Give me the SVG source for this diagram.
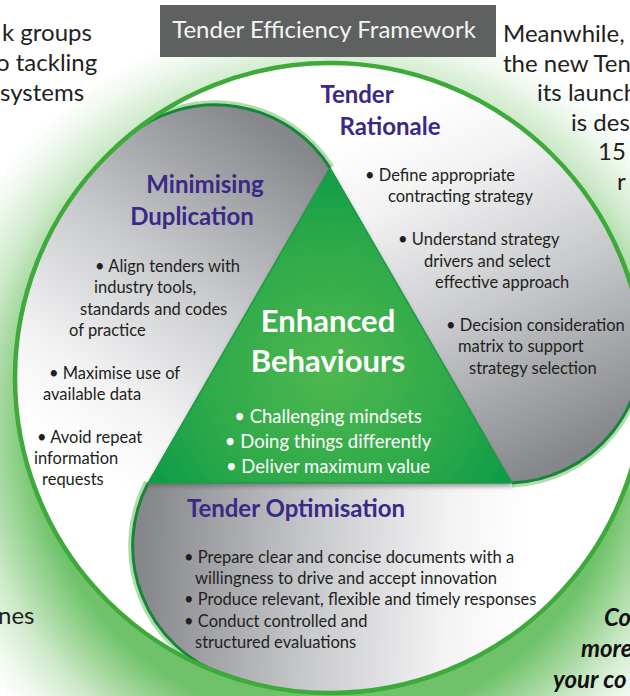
<svg xmlns="http://www.w3.org/2000/svg" xmlns:xlink="http://www.w3.org/1999/xlink" width="630" height="696" viewBox="0 0 630 696">
  <defs>
    <style>
      .page { font-family: Lato, "Open Sans", "Liberation Sans", sans-serif; fill: #231f20; font-size: 24px; }
      .bold-it { font-family: Lato, "Liberation Sans", sans-serif; font-weight: 700; font-style: italic; fill: #111; font-size: 24px; }
      .banner { font-family: Lato, "Liberation Sans", sans-serif; fill: #f4f4f4; font-size: 24px; }
      .head { font-family: Lato, "Liberation Sans", sans-serif; font-weight: 700; fill: #3a2986; font-size: 24px; }
      .body { font-family: Lato, "Liberation Sans", sans-serif; fill: #231f20; font-size: 16.5px; }
      .core-head { font-family: Lato, "Liberation Sans", sans-serif; font-weight: 700; fill: #ffffff; font-size: 31px; }
      .core-body { font-family: Lato, "Liberation Sans", sans-serif; fill: #ffffff; font-size: 18.5px; }
      .glow { fill: none; stroke: #9ad594; stroke-width: 9; stroke-opacity: 0.8; }
      .edge { fill: none; stroke: #17853a; stroke-width: 3; }
    </style>

    <!-- soft green halo around the wheel -->
    <radialGradient id="halo" gradientUnits="userSpaceOnUse" cx="330" cy="430" r="420">
      <stop offset="0.70" stop-color="#6fc26a"/>
      <stop offset="0.78" stop-color="#9fd699"/>
      <stop offset="0.86" stop-color="#cfeacb"/>
      <stop offset="0.94" stop-color="#eff8ee"/>
      <stop offset="1" stop-color="#ffffff"/>
    </radialGradient>

    <!-- grey sweep used by every lobe (rotates with the lobe) -->
    <linearGradient id="lobeGrad" gradientUnits="userSpaceOnUse" x1="305" y1="150" x2="95" y2="470">
      <stop offset="0" stop-color="#86878b"/>
      <stop offset="0.45" stop-color="#c9cacd"/>
      <stop offset="0.8" stop-color="#f3f3f4"/>
      <stop offset="1" stop-color="#ffffff"/>
    </linearGradient>

    <radialGradient id="coreGrad" gradientUnits="userSpaceOnUse" cx="330" cy="370" r="230">
      <stop offset="0" stop-color="#4fb84f"/>
      <stop offset="0.6" stop-color="#2aa84a"/>
      <stop offset="1" stop-color="#039847"/>
    </radialGradient>

    <filter id="coreShadow" x="-10%" y="-10%" width="120%" height="125%">
      <feGaussianBlur in="SourceAlpha" stdDeviation="2"/>
      <feOffset dx="0" dy="3" result="s"/>
      <feFlood flood-color="#5a5a5a" flood-opacity="0.55"/>
      <feComposite in2="s" operator="in"/>
      <feMerge><feMergeNode/><feMergeNode in="SourceGraphic"/></feMerge>
    </filter>

    <!-- one lobe: triangle edge, leading arc, rim arc, trailing arc -->
    <path id="lobe" fill="url(#lobeGrad)"
          d="M148.1,483 L330,168 A136.2,136.2 0 0 0 127.5,136.7 A315,315 0 0 0 222.3,674 A136.2,136.2 0 0 1 148.1,483 Z"/>
    <path id="arcA" d="M330,168 A136.2,136.2 0 0 0 127.5,136.7"/>

    <clipPath id="clipNext">
      <use xlink:href="#lobe" transform="rotate(120 330 378)"/>
    </clipPath>
  </defs>

  <!-- page background with halo -->
  <rect x="0" y="0" width="630" height="696" fill="url(#halo)"/>

  <!-- surrounding page copy -->
  <g id="page-text">
    <text class="page" x="2" y="41">k groups</text>
    <text class="page" x="-4" y="71">o tackling</text>
    <text class="page" x="0" y="101">systems</text>
    <text class="page" x="503" y="42">Meanwhile,</text>
    <text class="page" x="503" y="72">the new Ten</text>
    <text class="page" x="537" y="101">its launch</text>
    <text class="page" x="571" y="131">is des</text>
    <text class="page" x="598" y="160">15</text>
    <text class="page" x="617" y="190">r</text>
    <text class="page" x="-2" y="624">nes</text>
    <text class="bold-it" x="604" y="626">Co</text>
    <text class="bold-it" x="581" y="657">more</text>
    <text class="bold-it" x="553" y="688">your co</text>
  </g>

  <!-- banner -->
  <g id="banner">
    <rect x="160" y="5" width="336" height="52" fill="#5f6160"/>
    <text class="banner" x="324" y="38" text-anchor="middle">Tender Efficiency Framework</text>
  </g>

  <!-- wheel base -->
  <circle cx="330" cy="378" r="315" fill="#ffffff"/>

  <g id="node-minimising">
    <use xlink:href="#lobe"/>
    <text class="head" x="205" y="193" text-anchor="middle">Minimising</text>
    <text class="head" x="192" y="225" text-anchor="middle">Duplication</text>
    <text class="body" x="95" y="272">• Align tenders with</text>
    <text class="body" x="94" y="293">industry tools,</text>
    <text class="body" x="80" y="315">standards and codes</text>
    <text class="body" x="69" y="336">of practice</text>
    <text class="body" x="49" y="379">• Maximise use of</text>
    <text class="body" x="43" y="400">available data</text>
    <text class="body" x="37" y="443">• Avoid repeat</text>
    <text class="body" x="34" y="464">information</text>
    <text class="body" x="42" y="485">requests</text>
  </g>

  <g id="node-rationale">
    <use xlink:href="#lobe" transform="rotate(120 330 378)"/>
    <text class="head" x="357" y="103" text-anchor="middle">Tender</text>
    <text class="head" x="390" y="135" text-anchor="middle">Rationale</text>
    <text class="body" x="365" y="181">• Define appropriate</text>
    <text class="body" x="388" y="202">contracting strategy</text>
    <text class="body" x="398" y="245">• Understand strategy</text>
    <text class="body" x="424" y="267">drivers and select</text>
    <text class="body" x="435" y="288">effective approach</text>
    <text class="body" x="446" y="331">• Decision consideration</text>
    <text class="body" x="458" y="352">matrix to support</text>
    <text class="body" x="469" y="374">strategy selection</text>
  </g>

  <g id="node-optimisation">
    <use xlink:href="#lobe" transform="rotate(240 330 378)"/>
    <text class="head" x="296" y="517" text-anchor="middle">Tender Optimisation</text>
    <text class="body" x="184" y="563">• Prepare clear and concise documents with a</text>
    <text class="body" x="195" y="584">willingness to drive and accept innovation</text>
    <text class="body" x="184" y="605">• Produce relevant, flexible and timely responses</text>
    <text class="body" x="184" y="627">• Conduct controlled and</text>
    <text class="body" x="195" y="648">structured evaluations</text>
  </g>

  <!-- dark green lobe edges with a light halo on their outer side -->
  <g id="lobe-edges">
    <g>
      <use xlink:href="#arcA" class="glow" clip-path="url(#clipNext)"/>
      <use xlink:href="#arcA" class="edge"/>
    </g>
    <g transform="rotate(120 330 378)">
      <use xlink:href="#arcA" class="glow" clip-path="url(#clipNext)"/>
      <use xlink:href="#arcA" class="edge"/>
    </g>
    <g transform="rotate(240 330 378)">
      <use xlink:href="#arcA" class="glow" clip-path="url(#clipNext)"/>
      <use xlink:href="#arcA" class="edge"/>
    </g>
  </g>

  <!-- rim -->
  <circle cx="330" cy="378" r="315" fill="none" stroke="#3daa3a" stroke-width="4.5"/>

  <g id="node-core">
    <polygon points="330,168 511.9,483 148.1,483" fill="url(#coreGrad)" stroke="#1d9a45" stroke-width="1.5" filter="url(#coreShadow)"/>
    <text class="core-head" x="328" y="332" text-anchor="middle">Enhanced</text>
    <text class="core-head" x="328" y="372" text-anchor="middle">Behaviours</text>
    <text class="core-body" x="328" y="423" text-anchor="middle">• Challenging mindsets</text>
    <text class="core-body" x="328" y="448" text-anchor="middle">• Doing things differently</text>
    <text class="core-body" x="328" y="473" text-anchor="middle">• Deliver maximum value</text>
  </g>
</svg>
